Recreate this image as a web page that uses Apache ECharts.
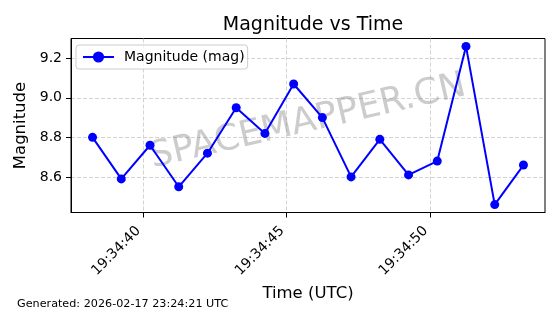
<!DOCTYPE html>
<html>
<head>
<meta charset="utf-8">
<script src="https://cdn.jsdelivr.net/npm/echarts@6/dist/echarts.min.js"></script>
<style>
  html, body { margin: 0; padding: 0; background: #fff; }
  #chart { width: 560px; height: 314px; }
</style>
</head>
<body>
<div id="chart"></div>
<script>
// sample times (UTC) and magnitudes
const times = [
  "19:34:38.25", "19:34:39.25", "19:34:40.25", "19:34:41.25",
  "19:34:42.25", "19:34:43.25", "19:34:44.25", "19:34:45.25",
  "19:34:46.25", "19:34:47.25", "19:34:48.25", "19:34:49.25",
  "19:34:50.25", "19:34:51.25", "19:34:52.25", "19:34:53.25",
];
const magnitudes = [
  8.80, 8.59, 8.76, 8.55, 8.72, 8.95, 8.82, 9.07,
  8.90, 8.60, 8.79, 8.61, 8.68, 9.26, 8.46, 8.66,
];
const xTickLabels = ["19:34:40", "19:34:45", "19:34:50"];
const yTicks = [8.6, 8.8, 9.0, 9.2];
const generatedText = "Generated: 2026-02-17 23:24:21 UTC";

const FONT = "DejaVu Sans";

// hh:mm:ss(.fff) -> seconds of the day
const toSec = (s) => {
  const p = s.split(":");
  return +p[0] * 3600 + +p[1] * 60 + parseFloat(p[2]);
};
const pad2 = (n) => String(n).padStart(2, "0");
const fmtSec = (v) => {
  const t = Math.round(v);
  return pad2(Math.floor(t / 3600)) + ":" + pad2(Math.floor((t % 3600) / 60)) + ":" + pad2(t % 60);
};

const xs = times.map(toSec);
const xTicks = xTickLabels.map(toSec);
// matplotlib-like 5% margins
const xMin = Math.min(...xs), xMax = Math.max(...xs);
const yMin = Math.min(...magnitudes), yMax = Math.max(...magnitudes);
const xm = (xMax - xMin) * 0.05, ym = (yMax - yMin) * 0.05;

const gridLine = { show: true, lineStyle: { color: "#c8c8c8", type: [4, 2], width: 0.8 } };

let myChart = echarts.init(document.getElementById("chart"));
myChart.setOption({
  animation: false,
  backgroundColor: "#fff",
  title: {
    text: "Magnitude vs Time",
    left: 308,
    top: 11,
    textAlign: "center",
    textStyle: { fontFamily: FONT, fontSize: 19, fontWeight: "normal", color: "#000" },
  },
  legend: {
    left: 76,
    top: 45,
    padding: [5, 3, 5, 6],
    itemWidth: 31,
    itemHeight: 14,
    backgroundColor: "rgba(255,255,255,0.8)",
    borderColor: "#cccccc",
    borderWidth: 1,
    borderRadius: 3,
    textStyle: { fontFamily: FONT, fontSize: 14, color: "#000", padding: [0, 0, 0, 5] },
    data: ["Magnitude (mag)"],
  },
  grid: {
    left: 71,
    right: 15,
    top: 38.5,
    bottom: 101.5,
    show: true,
    borderColor: "#000",
    borderWidth: 1,
  },
  xAxis: {
    type: "value",
    min: xMin - xm,
    max: xMax + xm,
    name: "Time (UTC)",
    nameLocation: "middle",
    nameGap: 68,
    nameTextStyle: { fontFamily: FONT, fontSize: 16.5, color: "#000" },
    axisLine: { lineStyle: { color: "#000", width: 1 } },
    axisTick: { show: true, length: 5, lineStyle: { color: "#000" }, customValues: xTicks },
    axisLabel: {
      customValues: xTicks,
      rotate: 45,
      margin: 12,
      padding: [0, 6, 0, 0],
      fontFamily: FONT,
      fontSize: 14,
      color: "#000",
      formatter: fmtSec,
    },
    splitLine: gridLine,
  },
  yAxis: {
    type: "value",
    min: yMin - ym,
    max: yMax + ym,
    name: "Magnitude",
    nameLocation: "middle",
    nameGap: 35,
    nameTextStyle: { fontFamily: FONT, fontSize: 16.5, color: "#000" },
    axisLine: { show: true, lineStyle: { color: "#000", width: 1 } },
    axisTick: { show: true, length: 5, lineStyle: { color: "#000" }, customValues: yTicks },
    axisLabel: {
      customValues: yTicks,
      margin: 9,
      fontFamily: FONT,
      fontSize: 14,
      color: "#000",
      formatter: (v) => v.toFixed(1),
    },
    splitLine: gridLine,
  },
  graphic: [
    {
      type: "text",
      x: 308,
      y: 122,
      rotation: (13 * Math.PI) / 180,
      z: 1,
      silent: true,
      style: {
        text: "SPACEMAPPER.CN",
        fontFamily: FONT,
        fontSize: 36,
        fill: "rgba(128,128,128,0.4)",
        align: "center",
        verticalAlign: "middle",
      },
    },
    {
      type: "text",
      left: 17,
      top: 299,
      style: { text: generatedText, fontFamily: FONT, fontSize: 11.2, fill: "#000" },
    },
  ],
  series: [
    {
      name: "Magnitude (mag)",
      type: "line",
      data: xs.map((x, i) => [x, magnitudes[i]]),
      symbol: "circle",
      symbolSize: 9,
      z: 5,
      itemStyle: { color: "#0000ff" },
      lineStyle: { color: "#0000ff", width: 2 },
    },
  ],
});
</script>
</body>
</html>
